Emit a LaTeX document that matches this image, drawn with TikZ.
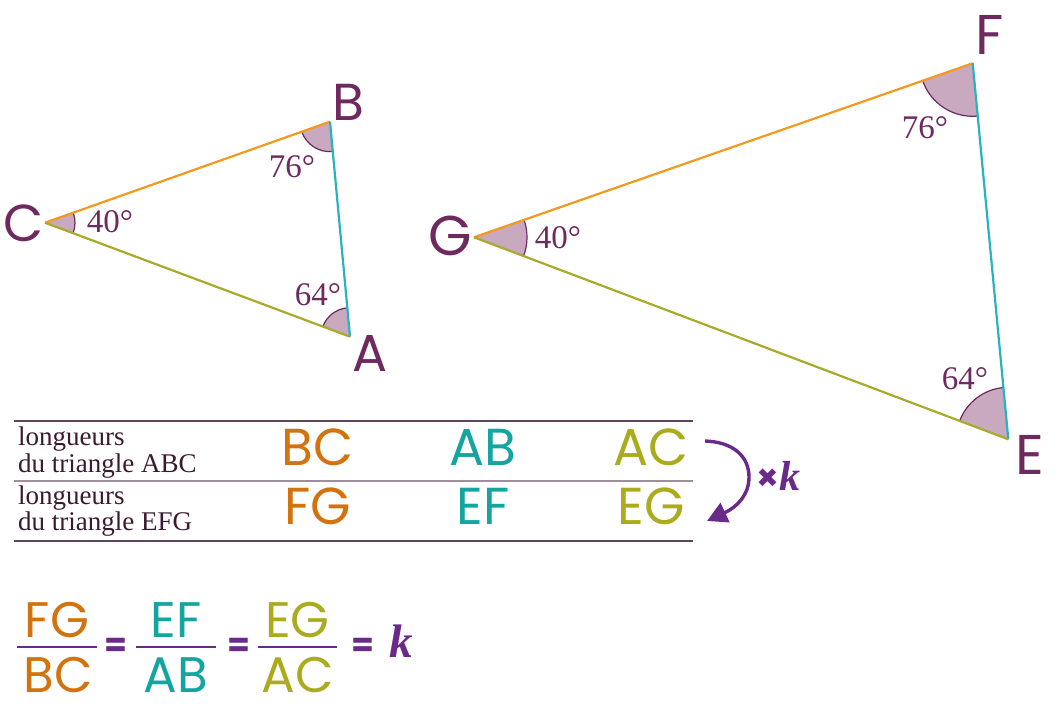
\documentclass[tikz,border=0pt]{standalone}
\usepackage{fontspec}
\setmainfont{Liberation Serif}
\newfontfamily\geo{Poppins}
\usetikzlibrary{angles,arrows.meta}
\definecolor{lineOr}{HTML}{F39A1E}
\definecolor{lineTe}{HTML}{27B3BD}
\definecolor{lineOl}{HTML}{A9AA2A}
\definecolor{txOr}{HTML}{D2730E}
\definecolor{txTe}{HTML}{15A5A0}
\definecolor{txOl}{HTML}{ABAB1E}
\definecolor{vtx}{HTML}{6E2A5E}
\definecolor{arcc}{HTML}{6E2A5E}
\definecolor{fillc}{HTML}{C8A9C0}
\definecolor{kcol}{HTML}{6A2A8A}
\definecolor{tabtx}{HTML}{3A1A2E}
\definecolor{rule}{HTML}{5E4558}
\definecolor{rulelt}{HTML}{A08E9C}
\tikzset{
  side/.style={line width=2.2pt},
  angmark/.style={draw=arcc, fill=fillc, line width=1.2pt},
  vlabel/.style={font=\geo\fontsize{52}{56}\selectfont, text=vtx, inner sep=0pt},
  vlabelbig/.style={font=\geo\fontsize{56}{60}\selectfont, text=vtx, inner sep=0pt},
  alabel/.style={font=\fontsize{33}{36}\selectfont, text=vtx, inner sep=0pt},
  tabtext/.style={font=\fontsize{27}{30}\selectfont, text=tabtx, inner sep=0pt, anchor=base west},
  tabseg/.style={font=\geo\fontsize{52}{56}\selectfont, inner sep=0pt, anchor=base},
  fracseg/.style={font=\geo\fontsize{50}{54}\selectfont, inner sep=0pt, anchor=base},
  eqsign/.style={font=\geo\bfseries\fontsize{33}{35}\selectfont, text=kcol, inner sep=0pt},
  fracbar/.style={draw=kcol, line width=2.4pt},
}
\begin{document}
\begin{tikzpicture}[x=1pt,y=1pt]
\useasboundingbox (0,0) rectangle (1060,712);
% small triangle
\coordinate (C) at (45,489.3);
\coordinate (B) at (330,590.3);
\coordinate (A) at (350,375.3);
% big triangle
\coordinate (G) at (474,474.7);
\coordinate (F) at (972.7,648.7);
\coordinate (E) at (1008.3,272.7);
% angle marks
\pic[angmark, angle radius=30pt] {angle=A--C--B};
\pic[angmark, angle radius=30pt] {angle=C--B--A};
\pic[angmark, angle radius=29pt] {angle=B--A--C};
\pic[angmark, angle radius=53pt] {angle=E--G--F};
\pic[angmark, angle radius=53pt] {angle=G--F--E};
\pic[angmark, angle radius=52pt] {angle=F--E--G};
% sides
\draw[side, lineOr] (C) -- (B);
\draw[side, lineTe] (B) -- (A);
\draw[side, lineOl] (A) -- (C);
\draw[side, lineOr] (G) -- (F);
\draw[side, lineTe] (F) -- (E);
\draw[side, lineOl] (E) -- (G);
% vertex labels
\node[vlabel] (lB) at (348,610) {B};
\node[vlabel] (lC) at (24,489) {C};
\node[vlabel] (lA) at (370,359) {A};
\node[vlabelbig] (lF) at (990,677) {F};
\node[vlabelbig] (lE) at (1030,257) {E};
\node[vlabelbig] (lG) at (450,476) {G};
% angle labels
\node[alabel] (aC) at (110,490) {40°};
\node[alabel] (aB) at (292,545) {76°};
\node[alabel] (aA) at (318,417) {64°};
\node[alabel] (aG) at (558,474) {40°};
\node[alabel] (aF) at (925,584) {76°};
\node[alabel] (aE) at (965,333) {64°};
% table rules
\coordinate (r1a) at (14,291); \coordinate (r1b) at (693,291);
\coordinate (r2a) at (14,231); \coordinate (r2b) at (693,231);
\coordinate (r3a) at (14,171); \coordinate (r3b) at (693,171);
\draw[rule, line width=1.3pt] (r1a) -- (r1b);
\draw[rulelt, line width=1.6pt] (r2a) -- (r2b);
\draw[rule, line width=1.3pt] (r3a) -- (r3b);
% table texts
\node[tabtext] (t1) at (18,266) {longueurs};
\node[tabtext] (t2) at (18,239) {du triangle ABC};
\node[tabtext] (t3) at (18,207) {longueurs};
\node[tabtext] (t4) at (18,181) {du triangle EFG};
\node[tabseg, text=txOr] (sBC) at (318,246) {BC};
\node[tabseg, text=txTe] (sAB) at (483,246) {AB};
\node[tabseg, text=txOl] (sAC) at (651,246) {AC};
\node[tabseg, text=txOr] (sFG) at (318,187) {FG};
\node[tabseg, text=txTe] (sEF) at (483,187) {EF};
\node[tabseg, text=txOl] (sEG) at (651,187) {EG};
% arrow x k
\coordinate (ks) at (705,271);
\coordinate (ke) at (707,191);
\draw[kcol, line width=3.4pt, -{Triangle[length=20pt,width=21pt]}] (ks) .. controls (734,270) and (749,255) .. (749,235) .. controls (749,217) and (737,205) .. (ke);
\node[text=kcol, inner sep=0pt, anchor=base west] (xk) at (756,221) {{\geo\bfseries\fontsize{36}{38}\selectfont ×}{\bfseries\itshape\fontsize{42}{44}\selectfont k}};
% fractions
\node[fracseg, text=txOr] (nFG) at (57,74) {FG};
\node[fracseg, text=txOr] (dBC) at (58,19) {BC};
\draw[fracbar] (17,65) -- (97,65);
\node[eqsign] (eq1) at (116,65) {=};
\node[fracseg, text=txTe] (nEF) at (176,74) {EF};
\node[fracseg, text=txTe] (dAB) at (176,19) {AB};
\draw[fracbar] (136,65) -- (216,65);
\node[eqsign] (eq2) at (238.5,65) {=};
\node[fracseg, text=txOl] (nEG) at (297.5,74) {EG};
\node[fracseg, text=txOl] (dAC) at (297.5,19) {AC};
\draw[fracbar] (258,65) -- (337,65);
\node[eqsign] (eq3) at (362.5,65) {=};
\node[text=kcol, inner sep=0pt, anchor=base west, font=\bfseries\itshape\fontsize{47}{50}\selectfont] (kk) at (389,54) {k};
\end{tikzpicture}
\end{document}
